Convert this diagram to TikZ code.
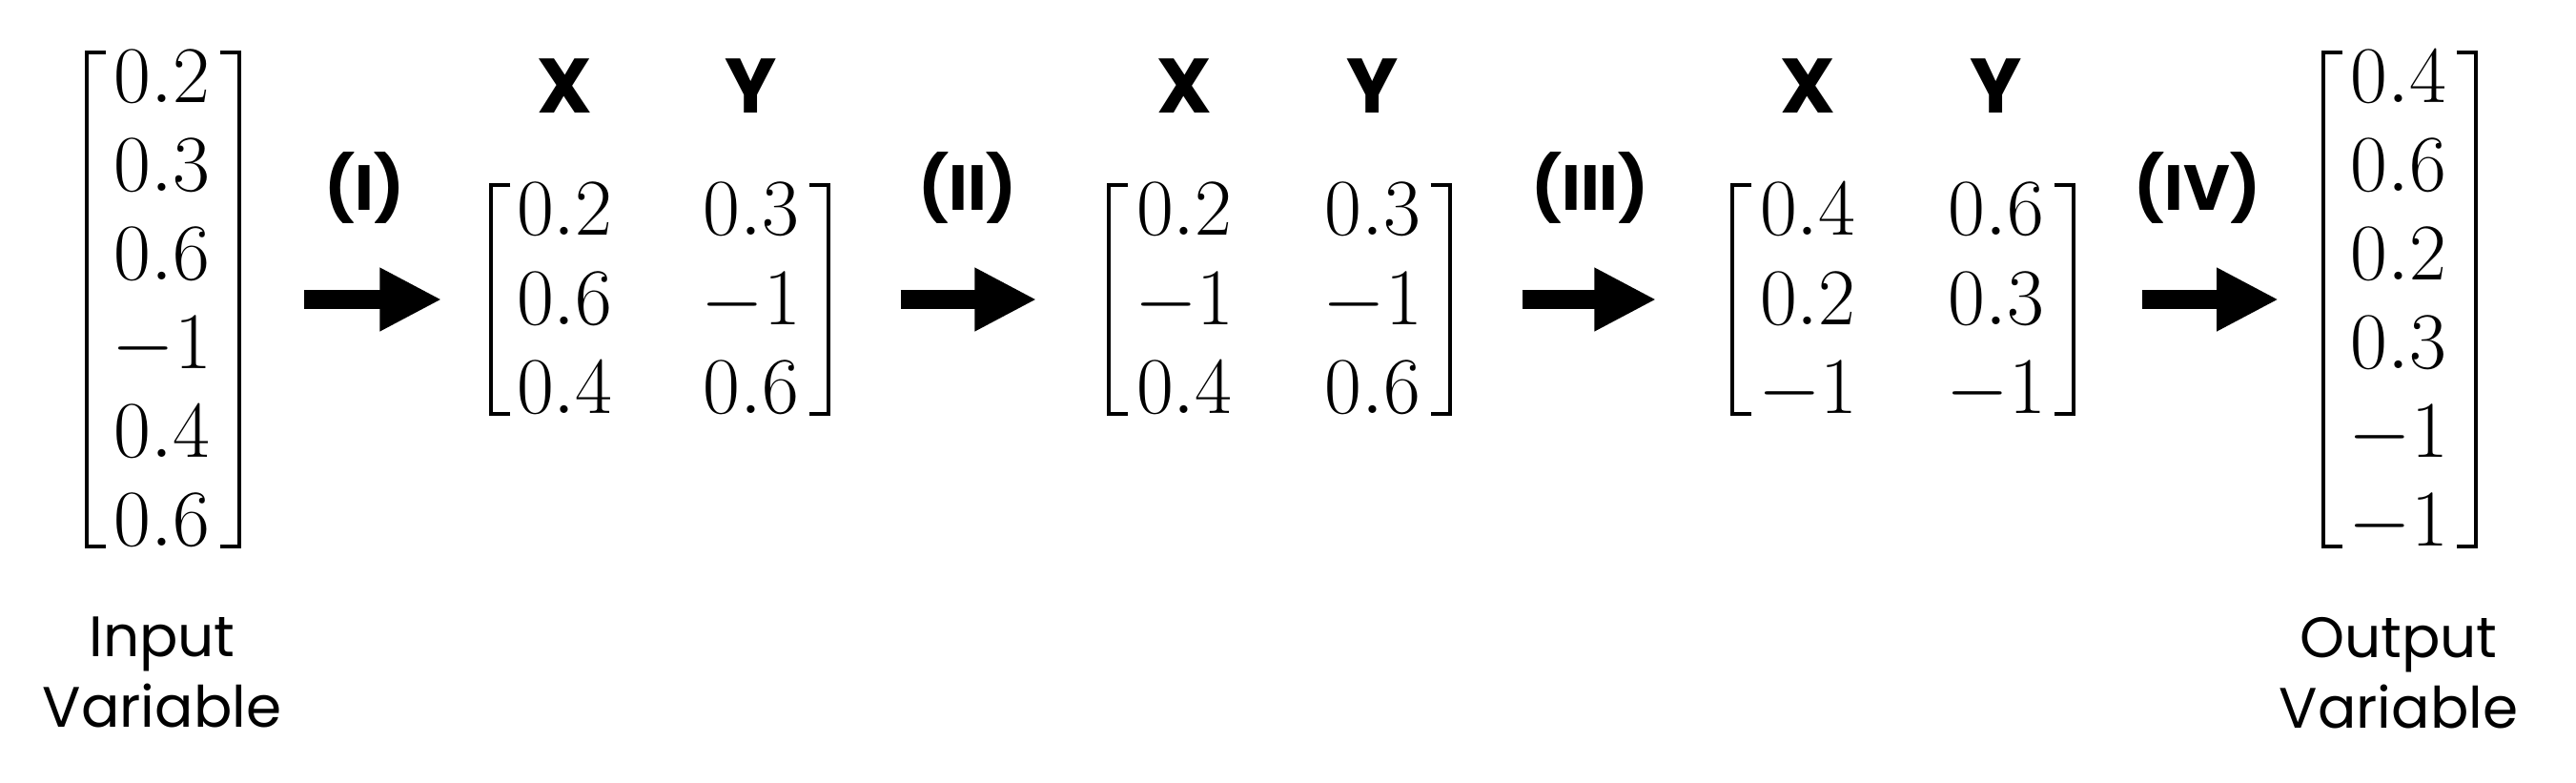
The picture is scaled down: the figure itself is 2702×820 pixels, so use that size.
\RequirePackage{fix-cm}
\documentclass[tikz,border=0pt]{standalone}
\usepackage{fontspec}
\newfontfamily\labelfont{Poppins}
\usetikzlibrary{matrix,positioning,arrows.meta}

\tikzset{
  vecmat/.style={matrix of math nodes, inner sep=0pt,
    row sep=0.41cm, column sep=0.93cm,
    nodes={inner sep=0pt, text height=0.52cm, text depth=0pt,
      font=\fontsize{24}{24}\selectfont}},
  bracket/.style={line width=0.04cm},
  colname/.style={font=\labelfont\bfseries\fontsize{23}{23}\selectfont, inner sep=0pt},
  steplabel/.style={font=\labelfont\bfseries\fontsize{19}{19}\selectfont, inner sep=0pt},
  varname/.style={font=\labelfont\fontsize{17}{21}\selectfont, align=center, inner sep=0pt},
  flowarrow/.style={line width=0.2cm, -{Triangle[width=0.62cm,length=0.65cm]}},
}

\begin{document}
\begin{tikzpicture}[x=0.01cm, y=-0.01cm]
\useasboundingbox (0,0) rectangle (2702,820);

% vectors and matrices
\matrix[vecmat] (in) at (170,314) {0.2\\ 0.3\\ 0.6\\ -1\\ 0.4\\ 0.6\\};
\matrix[vecmat] (m1) at (691,314) {0.2 & 0.3\\ 0.6 & -1\\ 0.4 & 0.6\\};
\matrix[vecmat] (m2) at (1341,314) {0.2 & 0.3\\ -1 & -1\\ 0.4 & 0.6\\};
\matrix[vecmat] (m3) at (1995,314) {0.4 & 0.6\\ 0.2 & 0.3\\ -1 & -1\\};
\matrix[vecmat] (out) at (2516,314) {0.4\\ 0.6\\ 0.2\\ 0.3\\ -1\\ -1\\};

% brackets
\foreach \m in {in,m1,m2,m3,out}{
  \draw[bracket] ([xshift=-0.06cm]\m.north west) -| ([xshift=-0.26cm]\m.south west) -- ([xshift=-0.06cm]\m.south west);
  \draw[bracket] ([xshift=0.08cm]\m.north east) -| ([xshift=0.28cm]\m.south east) -- ([xshift=0.08cm]\m.south east);
}

% column names
\foreach \m in {m1,m2,m3}{
  \node[colname, above=0.75cm of \m-1-1] (\m x) {X};
  \node[colname, above=0.75cm of \m-1-2] (\m y) {Y};
}

\node[varname, below=0.73cm of in] (inlabel) {Input\\Variable};
\node[varname, below=0.73cm of out] (outlabel) {Output\\Variable};

% steps
\draw[flowarrow, shorten <=0.96cm, shorten >=0.78cm] (in) -- node[steplabel, above=0.7cm] {(I)} (m1);
\draw[flowarrow, shorten <=1.04cm, shorten >=1.02cm] (m1) -- node[steplabel, above=0.7cm] {(II)} (m2);
\draw[flowarrow, shorten <=1.04cm, shorten >=1.06cm] (m2) -- node[steplabel, above=0.7cm] {(III)} (m3);
\draw[flowarrow, shorten <=1.0cm, shorten >=0.73cm] (m3) -- node[steplabel, above=0.7cm] {(IV)} (out);
\end{tikzpicture}
\end{document}
